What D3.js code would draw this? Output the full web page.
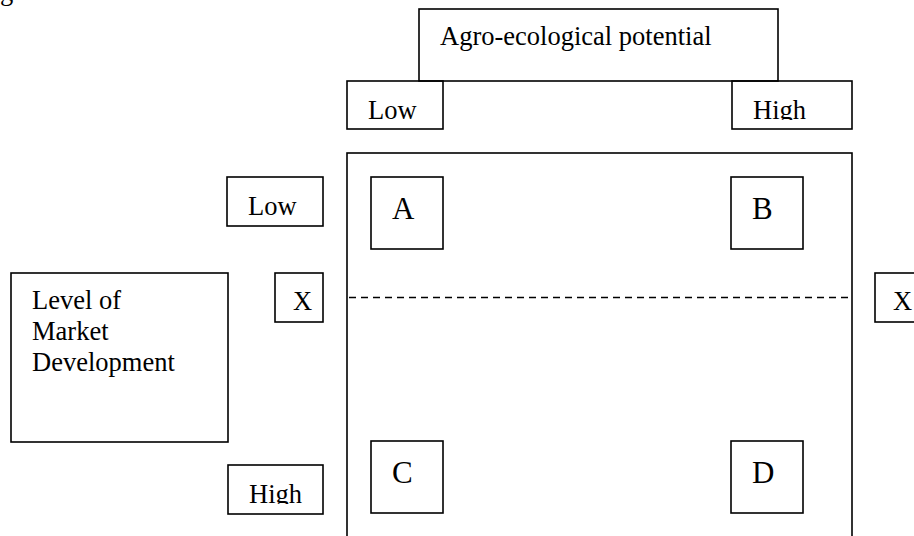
<!DOCTYPE html>
<html>
<head>
<meta charset="utf-8">
<script src="https://cdn.jsdelivr.net/npm/d3@7"></script>
<style>
	html, body { margin: 0; padding: 0; background: #fff; }
	svg { display: block; }
	text { font-family: "Liberation Serif", "Times New Roman", serif; fill: #000; }
</style>
</head>
<body>
<script>
// DIAGRAM CONTENT
const potentialLevels = ['Low', 'High']
const marketLevels = ['Low', 'High']
const quadrants = [
	{ id: 'A', potential: 'Low', market: 'Low' },
	{ id: 'B', potential: 'High', market: 'Low' },
	{ id: 'C', potential: 'Low', market: 'High' },
	{ id: 'D', potential: 'High', market: 'High' }
]
const thresholdSides = ['left', 'right']
const thresholdLabel = 'X'
const potentialTitle = 'Agro-ecological potential'
const marketTitle = ['Level of', 'Market', 'Development']
const caption = 'Figure'

function DOMLoad () {
	const width = 914
	const height = 536
	const fs = 26.5

	const svg = d3.select('body').append('svg')
		.attr('width', width)
		.attr('height', height)
		.attr('viewBox', `0 0 ${width} ${height}`)

	const defs = svg.append('defs')

	// SET UP THE LAYOUT SCALES
	const frame = { left: 347, top: 153, right: 852, bottom: 580 }
	const cell = 72
	const x = d3.scalePoint().domain(potentialLevels).range([frame.left + 24, frame.right - 121])
	const y = d3.scalePoint().domain(marketLevels).range([frame.top + 24, frame.top + 288])
	const rowLabelY = d3.scalePoint().domain(marketLevels).range([frame.top + 24, frame.top + 312])
	const thresholdY = frame.top + 144.5

	const box = (g, bx, by, bw, bh) => g.append('rect')
		.attr('x', bx).attr('y', by)
		.attr('width', bw).attr('height', bh)
		.attr('fill', 'none')
		.attr('stroke', '#000')
		.attr('stroke-width', 1.6)

	// CAPTION (CUT OFF BY THE PAGE EDGE)
	svg.append('text')
		.attr('x', -22).attr('y', 0)
		.attr('font-size', fs)
		.text(caption)

	// MAIN FRAME
	box(svg, frame.left, frame.top, frame.right - frame.left, frame.bottom - frame.top)

	// THRESHOLD LINE
	svg.append('line')
		.attr('x1', frame.left).attr('x2', frame.right - 4)
		.attr('y1', thresholdY).attr('y2', thresholdY)
		.attr('stroke', '#000')
		.attr('stroke-width', 1.4)
		.attr('stroke-dasharray', '7,5')
		.attr('stroke-dashoffset', -2)

	// TOP AXIS TITLE
	const agro = svg.append('g')
	box(agro, 419, 9, 359, 72)
	agro.append('text')
		.attr('x', 440).attr('y', 45)
		.attr('font-size', fs)
		.text(potentialTitle)

	// LABEL BOXES, CLIPPED JUST BELOW THE BASELINE
	const labelBox = (id, bx, by, bw, bh, label) => {
		const base = by + 37.5
		defs.append('clipPath').attr('id', id)
			.append('rect')
			.attr('x', bx).attr('y', by)
			.attr('width', bw).attr('height', base + 1.5 - by)
		const g = svg.append('g')
		box(g, bx, by, bw, bh)
		g.append('text')
			.attr('clip-path', `url(#${id})`)
			.attr('x', bx + 21).attr('y', base)
			.attr('font-size', fs)
			.text(label)
	}

	// COLUMN HEADERS
	const headWidth = { Low: 96, High: 120 }
	potentialLevels.forEach((d, i) => {
		const bx = i === 0 ? frame.left : frame.right - headWidth[d]
		labelBox(`col-${i}`, bx, 81, headWidth[d], 48, d)
	})

	// ROW HEADERS
	marketLevels.forEach((d, i) => {
		const bw = i === 0 ? 96 : 95
		labelBox(`row-${i}`, 323 - bw, rowLabelY(d), bw, 49, d)
	})

	// SIDE TITLE
	const lvl = svg.append('g')
	box(lvl, 11, 273, 217, 169)
	lvl.append('text')
		.attr('font-size', fs)
		.selectAll('tspan')
		.data(marketTitle)
		.join('tspan')
		.attr('x', 32)
		.attr('y', (d, i) => 309 + i * 31)
		.text(d => d)

	// THRESHOLD MARKERS
	thresholdSides.forEach(side => {
		const bx = side === 'left' ? frame.left - 72 : frame.right + 23
		const g = svg.append('g')
		box(g, bx, thresholdY - 24.5, 48, 49)
		g.append('text')
			.attr('x', bx + 18).attr('y', thresholdY + 12.5)
			.attr('font-size', fs)
			.text(thresholdLabel)
	})

	// QUADRANTS
	const q = svg.selectAll('g.quadrant')
		.data(quadrants)
		.join('g')
		.attr('class', 'quadrant')
		.attr('transform', d => `translate(${x(d.potential)},${y(d.market)})`)
	q.append('rect')
		.attr('width', cell).attr('height', cell)
		.attr('fill', 'none')
		.attr('stroke', '#000')
		.attr('stroke-width', 1.6)
	q.append('text')
		.attr('x', 21).attr('y', 41.5)
		.attr('font-size', 31)
		.text(d => d.id)
}

if (document.readyState === 'loading') {
	document.addEventListener('DOMContentLoaded', DOMLoad)
} else {
	DOMLoad()
}
</script>
</body>
</html>
